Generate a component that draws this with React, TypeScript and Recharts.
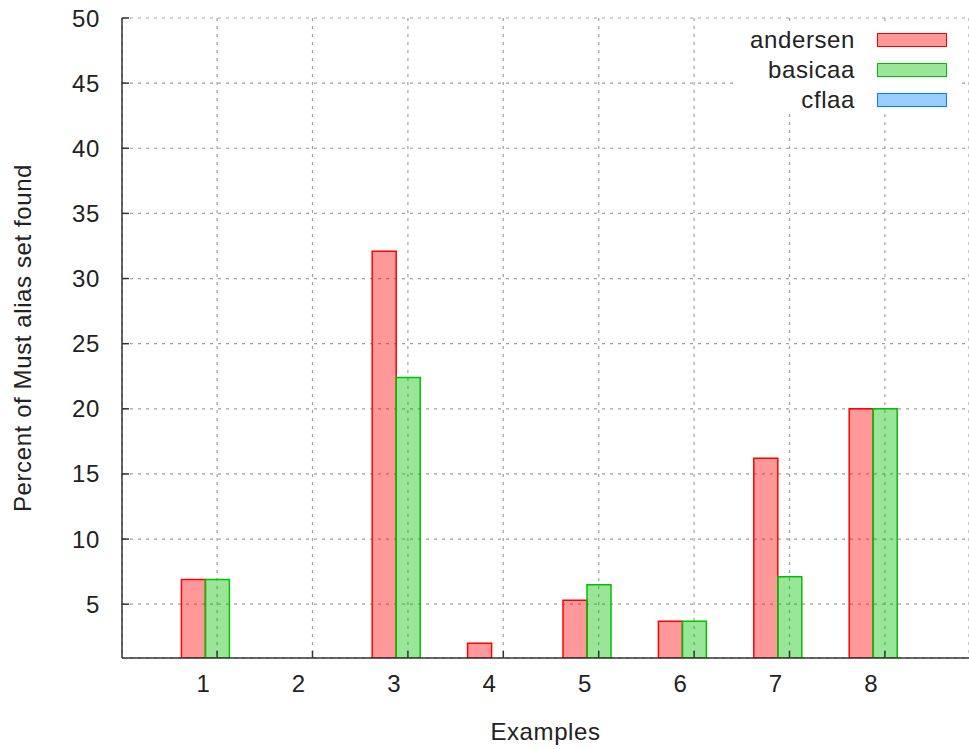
import React from "react";
import { Bar, BarChart, CartesianGrid, XAxis, YAxis } from "recharts";

const examples = ["1", "2", "3", "4", "5", "6", "7", "8"];
const andersen = [6.9, null, 32.1, 2.0, 5.3, 3.7, 16.2, 20];
const basicaa = [6.9, null, 22.4, null, 6.5, 3.7, 7.1, 20];
const cflaa = [null, null, null, null, null, null, null, null];
const yTicks = [5, 10, 15, 20, 25, 30, 35, 40, 45, 50];

const SERIES = [
  { key: "andersen", color: "#ff0000" },
  { key: "basicaa", color: "#00c000" },
  { key: "cflaa", color: "#0080ff" },
];

const FONT = "'Liberation Sans', Arial, sans-serif";
const FS = 24;
const LS = 0.6;
const TEXT = "#222";
const AXIS = "#333";

const data = examples.map((name, i) => ({
  name,
  andersen: andersen[i],
  basicaa: basicaa[i],
  cflaa: cflaa[i],
}));

function BottomTick({ x, y, payload }: any) {
  return (
    <g>
      <line x1={x} y1={y} x2={x} y2={y - 7} stroke={AXIS} strokeWidth={1.5} />
      <text x={x - 14} y={y + 25} textAnchor="middle" dominantBaseline="central" fontFamily={FONT} fontSize={FS} fill={TEXT}>
        {payload.value}
      </text>
    </g>
  );
}

function TopTick({ x, y }: any) {
  return <line x1={x} y1={y} x2={x} y2={y + 7} stroke={AXIS} strokeWidth={1.5} />;
}

function LeftTick({ x, y, payload }: any) {
  return (
    <g>
      <line x1={x} y1={y} x2={x + 7} y2={y} stroke={AXIS} strokeWidth={1.5} />
      <text x={x - 22} y={y} textAnchor="end" dominantBaseline="central" fontFamily={FONT} fontSize={FS} fill={TEXT} letterSpacing={LS}>
        {payload.value}
      </text>
    </g>
  );
}

function KeyBox() {
  return (
    <div style={{ position: "absolute", left: 737, top: 24, width: 221, height: 90, paddingTop: 1, boxSizing: "border-box", background: "#fff" }}>
      {SERIES.map((s) => (
        <div key={s.key} style={{ display: "flex", alignItems: "center", height: 30 }}>
          <span style={{ width: 118, textAlign: "right", fontFamily: FONT, fontSize: FS, letterSpacing: LS, color: TEXT, lineHeight: "30px" }}>{s.key}</span>
          <span
            style={{
              marginLeft: 22,
              width: 70,
              height: 14,
              boxSizing: "border-box",
              border: `1.5px solid ${s.color}`,
              background: s.color + "66",
            }}
          />
        </div>
      ))}
    </div>
  );
}

export default function App() {
  return (
    <div style={{ position: "absolute", left: 0, top: 0, width: 969, height: 749, background: "#fff" }}>
      <BarChart width={969} height={749} data={data} margin={{ top: 18, right: 0, bottom: 0, left: 0 }} barGap={0} barSize={24}>
        <CartesianGrid stroke="#a0a0a0" strokeDasharray="3 5" strokeWidth={1.2} />
        <XAxis
          dataKey="name"
          height={91}
          padding={{ left: 47.4, right: 36.4 }}
          tickSize={0}
          tickMargin={0}
          tickLine={false}
          tick={<BottomTick />}
          axisLine={{ stroke: AXIS, strokeWidth: 1.5 }}
          label={(props: any) => {
            const vb = props.viewBox;
            return (
              <text x={vb.x + vb.width / 2} y={vb.y + 73} textAnchor="middle" dominantBaseline="central" fontFamily={FONT} fontSize={FS} letterSpacing={LS} fill={TEXT}>
                Examples
              </text>
            );
          }}
        />
        <XAxis
          xAxisId="top"
          orientation="top"
          dataKey="name"
          height={0}
          padding={{ left: 47.4, right: 36.4 }}
          tickSize={0}
          tickMargin={0}
          tickLine={false}
          tick={<TopTick />}
          axisLine={{ stroke: AXIS, strokeWidth: 1.5 }}
        />
        <YAxis
          width={122}
          domain={[0.87, 50]}
          ticks={yTicks}
          allowDataOverflow
          tickSize={0}
          tickMargin={0}
          tickLine={false}
          tick={<LeftTick />}
          axisLine={{ stroke: AXIS, strokeWidth: 1.5 }}
          label={(props: any) => {
            const vb = props.viewBox;
            const cx = vb.x + 22;
            const cy = vb.y + vb.height / 2;
            return (
              <text x={cx} y={cy} transform={`rotate(-90, ${cx}, ${cy})`} textAnchor="middle" dominantBaseline="central" fontFamily={FONT} fontSize={FS} letterSpacing={LS} fill={TEXT}>
                Percent of Must alias set found
              </text>
            );
          }}
        />
        {SERIES.map((s) => (
          <Bar
            key={s.key}
            dataKey={s.key}
            fill={s.color}
            fillOpacity={0.4}
            stroke={s.color}
            strokeWidth={1.5}
            isAnimationActive={false}
          />
        ))}
      </BarChart>
      <KeyBox />
    </div>
  );
}
